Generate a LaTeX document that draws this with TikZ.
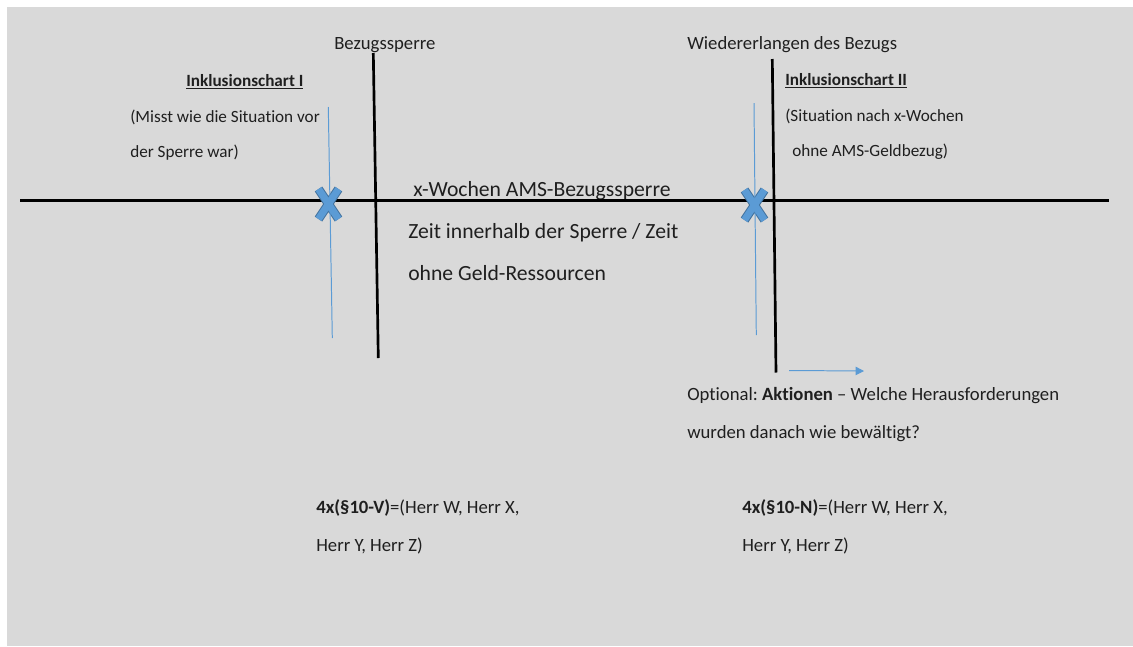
\documentclass[tikz,border=0pt]{standalone}
\usepackage{fontspec}
\setmainfont{Carlito}[Ligatures={TeX,NoCommon}]
\frenchspacing
\usetikzlibrary{arrows.meta}
\definecolor{hgrau}{HTML}{D9D9D9}
\definecolor{xblau}{HTML}{5B9BD5}
\definecolor{xrand}{HTML}{41719C}
\definecolor{schrift}{HTML}{1F1F1F}
\begin{document}
\begin{tikzpicture}[x=0.025cm,y=-0.025cm,
    txt/.style={anchor=base west,inner sep=0pt,text=schrift,align=left},
    klein/.style={txt,font=\fontsize{12.2}{24.8}\selectfont},
    mittel/.style={txt,font=\fontsize{13.3}{26.6}\selectfont},
    gross/.style={txt,font=\fontsize{15.4}{29.8}\selectfont},
    achse/.style={black,line width=1.9pt},
    hilf/.style={xblau,line width=0.7pt},
    kreuz/.pic={
        \draw[xrand,line width=6.4pt] (-10,-15) -- (10,15) (10,-15) -- (-10,15);
        \draw[xblau,line width=5pt] (-10,-15) -- (10,15) (10,-15) -- (-10,15);
    }]
    \path[use as bounding box,fill=white] (0,0) rectangle (1133,646);
    \fill[hgrau] (7,7) rectangle (1133,646);
    \coordinate (links) at (20,200.5);
    \coordinate (rechts) at (1109,200.5);
    \coordinate (s1o) at (373.3,53);
    \coordinate (s1u) at (378.3,358);
    \coordinate (s2o) at (772.3,59);
    \coordinate (s2u) at (776,372.5);
    \coordinate (h1o) at (328.3,107);
    \coordinate (h1u) at (332.3,338);
    \coordinate (h2o) at (754,103);
    \coordinate (h2u) at (756.3,335);
    \coordinate (pfa) at (789,370.5);
    \coordinate (pfe) at (864,371);
    \node[mittel] (sperre) at (334,49) {Bezugssperre};
    \node[mittel] (wieder) at (687,49) {Wiedererlangen des Bezugs};
    \node[klein] (ic1) at (186,86) {\textbf{\underline{Inklusionschart I}}};
    \node[klein] (ic1txt) at (130,157) {(Misst wie die Situation vor\\der Sperre war)};
    \node[klein] (ic2) at (785,85) {\textbf{\underline{Inklusionschart II}}};
    \node[klein] (ic2txt) at (785,156) {(Situation nach x-Wochen\\\hspace*{5pt}ohne AMS-Geldbezug)};
    \node[gross] (dauer) at (413,196) {x-Wochen AMS-Bezugssperre};
    \node[gross] (zeit) at (408,280) {Zeit innerhalb der Sperre / Zeit\\ohne Geld-Ressourcen};
    \node[mittel] (aktion) at (687,438) {Optional: \textbf{Aktionen} -- Welche Herausforderungen\\wurden danach wie bewältigt?};
    \node[mittel] (vorher) at (316,551) {\textbf{4x(§10-V)}=(Herr W, Herr X,\\Herr Y, Herr Z)};
    \node[mittel] (nachher) at (742,551) {\textbf{4x(§10-N)}=(Herr W, Herr X,\\Herr Y, Herr Z)};
    \draw[achse] (links) -- (rechts);
    \draw[achse] (s1o) -- (s1u);
    \draw[achse] (s2o) -- (s2u);
    \pic (k1) at (328.5,204) {kreuz};
    \pic (k2) at (754.5,205) {kreuz};
    \draw[hilf] (h1o) -- (h1u);
    \draw[hilf] (h2o) -- (h2u);
    \draw[hilf,-{Triangle[length=6pt,width=6pt]}] (pfa) -- (pfe);
\end{tikzpicture}
\end{document}
